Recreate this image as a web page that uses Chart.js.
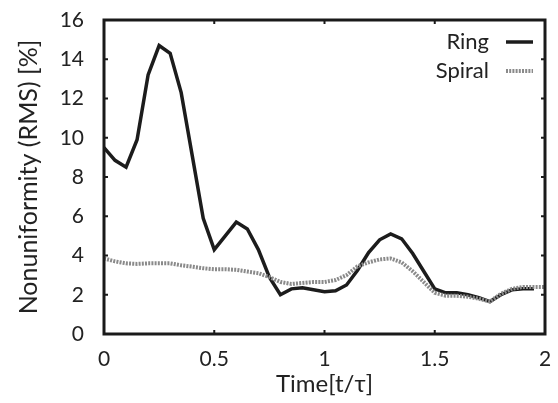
<!DOCTYPE html>
<html>
<head>
<meta charset="utf-8">
<script src="https://cdn.jsdelivr.net/npm/chart.js@4"></script>
<style>
  html, body { margin: 0; padding: 0; background: #fff; }
  #wrap { width: 558px; height: 403px; }
</style>
</head>
<body>
<div id="wrap"><canvas id="chart" width="558" height="403"></canvas></div>
<script>
// values, one point every 0.05 t/tau
const times = [0, 0.05, 0.1, 0.15, 0.2, 0.25, 0.3, 0.35, 0.4, 0.45, 0.5, 0.55, 0.6, 0.65, 0.7, 0.75, 0.8, 0.85, 0.9, 0.95,
  1, 1.05, 1.1, 1.15, 1.2, 1.25, 1.3, 1.35, 1.4, 1.45, 1.5, 1.55, 1.6, 1.65, 1.7, 1.75, 1.8, 1.85, 1.9, 1.95, 2];
const ring = [9.5, 8.85, 8.5, 9.9, 13.2, 14.7, 14.3, 12.3, 9.1, 5.9, 4.3, 5.0, 5.7, 5.35, 4.3, 2.9, 2.0, 2.3, 2.35, 2.25,
  2.15, 2.2, 2.5, 3.25, 4.15, 4.8, 5.1, 4.85, 4.1, 3.2, 2.3, 2.1, 2.1, 2.0, 1.85, 1.65, 2.0, 2.25, 2.3, 2.3, null];
const spiral = [3.85, 3.7, 3.6, 3.57, 3.6, 3.6, 3.6, 3.5, 3.43, 3.35, 3.3, 3.3, 3.27, 3.18, 3.1, 2.9, 2.65, 2.55, 2.6, 2.65,
  2.65, 2.75, 3.0, 3.45, 3.65, 3.8, 3.85, 3.65, 3.2, 2.65, 2.1, 1.95, 1.95, 1.9, 1.8, 1.65, 2.05, 2.3, 2.4, 2.4, 2.4];
const xTicks = [0, 0.5, 1, 1.5, 2];
const yTicks = [0, 2, 4, 6, 8, 10, 12, 14, 16];

const FONT = 'Lato, "Open Sans", sans-serif';
const ringColor = '#1c1c1c';
const spiralColor = '#8a8a8a';
const spiralDash = [2, 1.2];

// box frame, inward ticks and the legend inside the plot
const framePlugin = {
  id: 'frame',
  afterDatasetsDraw(chart) {
    const { ctx, chartArea: a, scales } = chart;
    ctx.save();
    ctx.strokeStyle = '#1a1a1a';
    ctx.lineWidth = 3;
    ctx.strokeRect(a.left, a.top, a.right - a.left, a.bottom - a.top);
    ctx.lineWidth = 2;
    ctx.beginPath();
    xTicks.forEach(v => {
      const x = scales.x.getPixelForValue(v);
      ctx.moveTo(x, a.bottom); ctx.lineTo(x, a.bottom - 4);
      ctx.moveTo(x, a.top); ctx.lineTo(x, a.top + 4);
    });
    yTicks.forEach(v => {
      const y = scales.y.getPixelForValue(v);
      ctx.moveTo(a.left, y); ctx.lineTo(a.left + 4, y);
      ctx.moveTo(a.right, y); ctx.lineTo(a.right - 4, y);
    });
    ctx.stroke();

    // legend
    ctx.font = '22px ' + FONT;
    ctx.fillStyle = '#222';
    ctx.textAlign = 'right';
    ctx.textBaseline = 'middle';
    const items = [
      { label: 'Ring', color: ringColor, dash: [], y: a.top + 22 },
      { label: 'Spiral', color: spiralColor, dash: spiralDash, y: a.top + 51 }
    ];
    items.forEach(it => {
      ctx.fillText(it.label, a.right - 56, it.y);
      ctx.strokeStyle = it.color;
      ctx.lineWidth = it.dash.length ? 4 : 3.5;
      ctx.setLineDash(it.dash);
      ctx.beginPath();
      ctx.moveTo(a.right - 39, it.y);
      ctx.lineTo(a.right - 12, it.y);
      ctx.stroke();
      ctx.setLineDash([]);
    });
    ctx.restore();
  }
};

new Chart(document.getElementById('chart'), {
  type: 'line',
  data: {
    datasets: [
      {
        label: 'Spiral',
        data: times.map((t, i) => ({ x: t, y: spiral[i] })),
        borderColor: spiralColor,
        borderWidth: 4,
        borderDash: spiralDash,
        pointRadius: 0,
        tension: 0
      },
      {
        label: 'Ring',
        data: times.map((t, i) => ({ x: t, y: ring[i] })),
        borderColor: ringColor,
        borderWidth: 3.5,
        pointRadius: 0,
        tension: 0,
        spanGaps: false
      }
    ]
  },
  options: {
    responsive: false,
    animation: false,
    layout: { padding: { top: 20, right: 13, left: 0, bottom: 0 } },
    plugins: { legend: { display: false }, tooltip: { enabled: false } },
    scales: {
      x: {
        type: 'linear',
        min: 0, max: 2,
        afterBuildTicks: s => { s.ticks = xTicks.map(v => ({ value: v })); },
        afterFit: s => { s.height = 69; s.paddingLeft = 0; s.paddingRight = 0; },
        grid: { display: false },
        border: { display: false },
        ticks: { color: '#222', font: { family: FONT, size: 21 }, padding: 5, maxRotation: 0,
          callback: v => String(v) },
        title: { display: true, text: 'Time[t/τ]', color: '#222', font: { family: FONT, size: 24 }, padding: { top: 3 } }
      },
      y: {
        min: 0, max: 16,
        afterBuildTicks: s => { s.ticks = yTicks.map(v => ({ value: v })); },
        afterFit: s => { s.width = 104; s.paddingTop = 0; s.paddingBottom = 0; },
        grid: { display: false },
        border: { display: false },
        ticks: { color: '#222', font: { family: FONT, size: 21 }, padding: 12 },
        title: { display: true, text: 'Nonuniformity (RMS) [%]', color: '#222', font: { family: FONT, size: 25 }, padding: { top: 14, bottom: 0 } }
      }
    }
  },
  plugins: [framePlugin]
});
</script>
</body>
</html>
